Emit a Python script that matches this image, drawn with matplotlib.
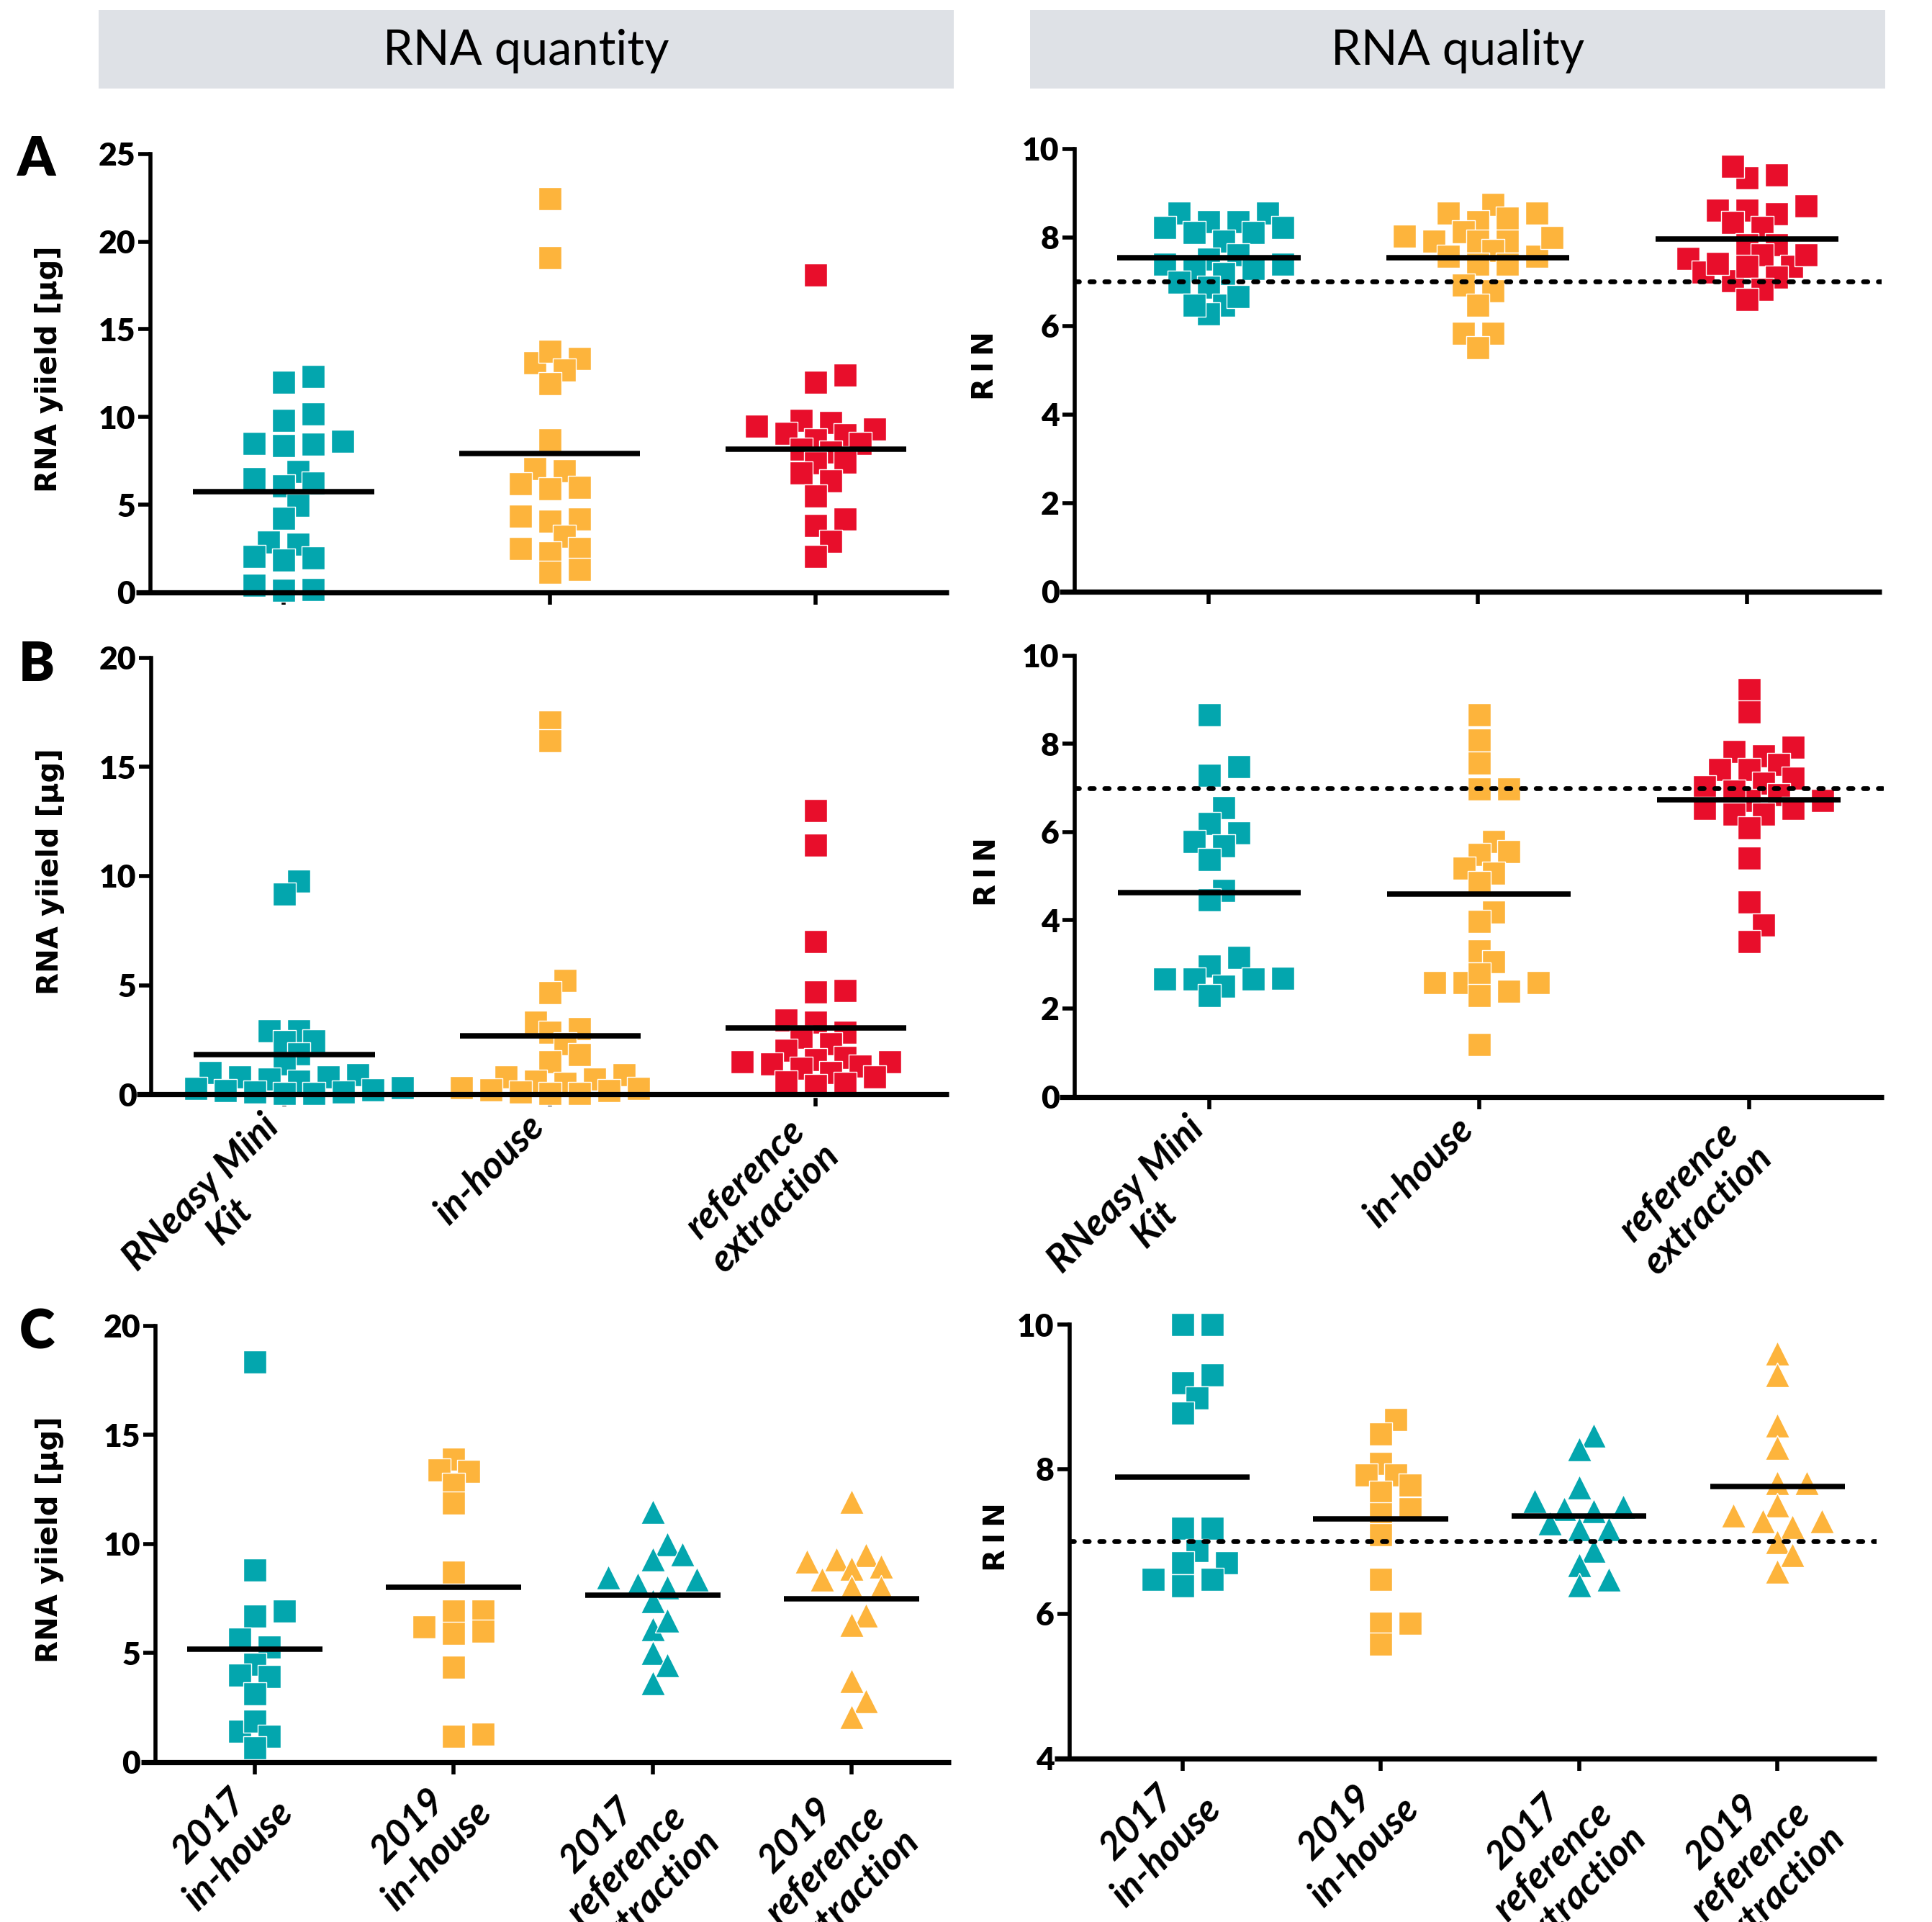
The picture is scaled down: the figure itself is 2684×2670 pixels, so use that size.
import numpy as np
import matplotlib
matplotlib.use("Agg")
import matplotlib.pyplot as plt
from matplotlib.patches import Rectangle
from matplotlib.transforms import ScaledTranslation

# colours used in the figure
TEAL = "#03A6AE"
ORANGE = "#FDB43C"
RED = "#E80E2B"

# category labels
methods = ["RNeasy Mini\nKit", "in-house", "reference\nextraction"]
years_methods = ["2017\nin-house", "2019\nin-house",
                 "2017\nreference\nextraction", "2019\nreference\nextraction"]

# --- panel A: RNA yield [ug] ---
a_yield_kit = [9.82, 10.18, 12.0, 12.3, 8.5, 8.35, 8.45, 8.6, 6.9, 6.25, 6.07,
               6.5, 4.97, 4.24, 2.74, 2.87, 1.96, 1.83, 2.05, 0.4, 0.13, 0.16]
a_yield_house = [22.43, 19.1, 13.07, 13.75, 13.35, 12.7, 11.88, 8.68, 7.04, 6.95, 6.2,
                 5.92, 5.98, 4.33, 4.04, 4.19, 3.2, 2.5, 2.27, 2.5, 1.32, 1.13]
a_yield_ref = [18.1, 12.4, 12.0, 9.81, 9.7, 9.47, 9.33, 9.07, 9.0, 8.7, 8.5,
               8.17, 8.0, 7.44, 7.4, 6.83, 6.36, 5.51, 4.2, 3.8, 2.9, 2.05]
a_yield_means = [5.74, 7.9, 8.16]

# --- panel A: RIN ---
a_rin_kit = [8.55, 8.55, 8.23, 8.36, 8.36, 8.23, 8.11, 8.11, 7.92, 7.60, 7.51,
             7.40, 7.40, 7.27, 7.19, 6.99, 7.30, 6.88, 6.47, 6.27, 6.47, 6.67]
a_rin_house = [8.55, 8.75, 8.43, 8.55, 8.35, 8.13, 7.92, 7.92, 7.92, 8.03, 7.71,
               7.58, 7.39, 7.58, 7.39, 6.92, 6.79, 6.47, 5.84, 5.84, 5.51, 8.0]
a_rin_ref = [9.42, 9.34, 9.61, 8.61, 8.53, 8.72, 8.61, 8.34, 8.23, 7.83, 7.83,
             7.53, 7.21, 7.61, 7.34, 7.02, 7.34, 7.42, 7.61, 7.10, 6.83, 6.60]
a_rin_means = [7.55, 7.55, 7.96]

# --- panel B: RNA yield [ug] ---
b_yield_kit = [9.76, 9.18, 2.9, 2.9, 2.4, 2.45, 1.85, 1.4, 1.0, 0.9, 0.8,
               0.8, 0.7, 0.6, 0.3, 0.25, 0.2, 0.15, 0.1, 0.1, 0.05, 0.05]
b_yield_house = [17.06, 16.2, 5.21, 4.66, 3.3, 3.0, 2.85, 2.3, 1.8, 1.5, 0.9,
                 0.8, 0.7, 0.6, 0.5, 0.3, 0.25, 0.2, 0.15, 0.1, 0.05, 0.05]
b_yield_ref = [12.99, 11.41, 7.01, 4.74, 4.68, 3.4, 3.3, 2.85, 2.6, 2.3, 2.0, 1.7,
               1.6, 1.5, 1.5, 1.4, 1.3, 1.2, 1.0, 0.8, 0.55, 0.5, 0.4]
b_yield_means = [1.8, 2.69, 3.03]

# --- panel B: RIN ---
b_rin_kit = [8.66, 7.48, 7.29, 6.56, 5.98, 6.19, 5.68, 5.79, 5.37, 4.68, 4.46,
             3.16, 2.97, 2.67, 2.67, 2.69, 2.5, 2.67, 2.3]
b_rin_house = [8.66, 8.08, 7.56, 6.97, 6.97, 5.79, 5.56, 5.49, 5.18, 5.07, 4.86,
               4.18, 3.98, 3.3, 3.06, 2.58, 2.78, 2.39, 2.58, 2.58, 2.3, 1.18]
b_rin_ref = [9.23, 8.73, 7.92, 7.83, 7.73, 7.53, 7.41, 7.41, 7.22, 7.11, 7.03, 6.84,
             6.72, 6.92, 6.72, 6.53, 6.41, 6.41, 6.53, 6.1, 5.41, 4.42, 3.9, 3.52]
b_rin_means = [4.63, 4.6, 6.73]

# --- panel C: RNA yield [ug] ---
c_yield_2017_house = [18.35, 8.8, 6.92, 6.68, 5.64, 5.27, 4.48, 3.9, 3.99, 3.11,
                      1.39, 1.88, 1.19, 0.64]
c_yield_2019_house = [13.9, 13.4, 13.32, 12.74, 11.86, 8.71, 6.92, 6.92, 6.18, 5.91,
                      6.0, 4.36, 1.19, 1.28]
c_yield_2017_ref = [11.49, 9.99, 9.53, 9.3, 8.47, 8.38, 8.14, 8.01, 7.37, 6.09,
                    6.5, 5.0, 4.45, 3.62]
c_yield_2019_ref = [11.95, 9.2, 9.3, 9.48, 8.87, 8.98, 8.01, 8.01, 8.38, 6.73,
                    6.28, 3.71, 2.8, 2.07]
c_yield_means = [5.18, 8.01, 7.65, 7.47]

# --- panel C: RIN ---
c_rin_2017_house = [10.0, 10.0, 9.19, 9.3, 8.99, 8.78, 7.18, 7.18, 6.87, 6.7,
                    6.7, 6.48, 6.48, 6.39]
c_rin_2019_house = [8.69, 8.49, 8.08, 7.92, 7.92, 7.68, 7.78, 7.45, 7.38, 7.09,
                    6.48, 5.87, 5.87, 5.58]
c_rin_2017_ref = [8.47, 8.28, 7.75, 7.56, 7.42, 7.48, 7.45, 7.25, 7.17, 7.17,
                  6.87, 6.67, 6.48, 6.4]
c_rin_2019_ref = [9.6, 9.3, 8.61, 8.3, 7.81, 7.81, 7.5, 7.36, 7.28, 7.28,
                  7.2, 6.99, 6.81, 6.59]
c_rin_means = [7.89, 7.31, 7.35, 7.76]

RIN_THRESHOLD = 7

W, H, DPI = 2684, 2670, 200
NUM_FONT = ["Lato", "DejaVu Sans"]
TEXT_FONT = ["Lato", "DejaVu Sans"]

fig = plt.figure(figsize=(W / DPI, H / DPI), dpi=DPI)


def swarm_offsets(values, rect, xlim, ylim, step_px=20.5, same_px=26, near_px=12):
    # greedy Prism-like column scatter, worked out in pixel space
    px_per_x = rect[2] * W / (xlim[1] - xlim[0])
    px_per_y = rect[3] * H / (ylim[1] - ylim[0])
    values = np.asarray(values, dtype=float)
    slots = np.zeros(len(values))
    placed = []
    candidates = [0]
    for k in range(1, 12):
        candidates += [k, -k]
    for i in np.argsort(values):
        y = values[i] * px_per_y
        for k in candidates:
            ok = True
            for s, yy in placed:
                d = abs(s - k)
                if d == 0 and abs(yy - y) < same_px:
                    ok = False
                    break
                if d == 1 and abs(yy - y) < near_px:
                    ok = False
                    break
            if ok:
                break
        placed.append((k, y))
        slots[i] = k
    return slots * step_px / px_per_x


def draw_panel(rect, groups, colors, markers, means, ylim, yticks, ylabel, label_x,
               xlim, xlabels=None, threshold=None, label_shift=(-12.7, -0.3)):
    ax = fig.add_axes(rect)
    ax.set_xlim(*xlim)
    ax.set_ylim(*ylim)
    for side in ["top", "right", "bottom"]:
        ax.spines[side].set_visible(False)
    ax.spines["left"].set_linewidth(2.0)
    # x axis line sticks out a little left of the y axis, like Prism does it
    ax.plot([-0.018, 1.0], [0, 0], transform=ax.transAxes, color="black", lw=2.6,
            clip_on=False, solid_capstyle="butt", zorder=5)

    for i, (vals, col, mk) in enumerate(zip(groups, colors, markers)):
        offs = swarm_offsets(vals, rect, xlim, ylim)
        size = 125 if mk == "s" else 150
        ax.scatter(i + offs, vals, marker=mk, s=size, color=col, edgecolors="white",
                   linewidths=0.5, zorder=2, clip_on=False)
        ax.plot([i - 0.34, i + 0.34], [means[i], means[i]], color="black", lw=2.7,
                solid_capstyle="butt", zorder=4)

    if threshold is not None:
        ax.axhline(threshold, color="black", lw=2.4, linestyle=(0, (0.9, 2.2)),
                   dash_capstyle="round", zorder=3)

    ax.set_yticks(yticks)
    ax.set_yticklabels([str(t) for t in yticks])
    ax.tick_params(axis="y", direction="out", length=6, width=2, pad=1.5, labelsize=16)
    ax.tick_params(axis="x", direction="out", length=6, width=2)
    for lab in ax.get_yticklabels():
        lab.set_fontfamily(NUM_FONT)
        lab.set_fontweight("heavy")

    ax.set_xticks(range(len(groups)))
    ax.set_xticklabels([])
    if xlabels:
        # rotated category names; the first line ends just below its tick
        shift = ScaledTranslation(label_shift[0] / 72, label_shift[1] / 72,
                                  fig.dpi_scale_trans)
        for i, name in enumerate(xlabels):
            ax.text(i, 0, name, transform=ax.get_xaxis_transform() + shift,
                    rotation=45, rotation_mode="anchor", ha="right", va="top",
                    multialignment="center", fontsize=19, fontweight="bold",
                    fontstyle="italic", family=TEXT_FONT, clip_on=False)

    ax.set_ylabel(ylabel, fontsize=14.5, fontweight="bold", family="DejaVu Sans")
    ax.yaxis.set_label_coords(label_x, 0.51)
    return ax


three = [TEAL, ORANGE, RED]
squares3 = ["s", "s", "s"]
four = [TEAL, ORANGE, TEAL, ORANGE]
mk4 = ["s", "s", "^", "^"]
yield_label = "RNA yiield [µg]"
rin_label = "R\u2009I\u2009N"

draw_panel([0.0779, 0.6918, 0.4132, 0.2281],
           [a_yield_kit, a_yield_house, a_yield_ref], three, squares3, a_yield_means,
           (0, 25), [0, 5, 10, 15, 20, 25], yield_label, -0.109, (-0.5, 2.5))
draw_panel([0.5561, 0.6923, 0.4178, 0.2302],
           [a_rin_kit, a_rin_house, a_rin_ref], three, squares3, a_rin_means,
           (0, 10), [0, 2, 4, 6, 8, 10], rin_label, -0.0925, (-0.5, 2.5),
           threshold=RIN_THRESHOLD)
draw_panel([0.0784, 0.4307, 0.4126, 0.2270],
           [b_yield_kit, b_yield_house, b_yield_ref], three, squares3, b_yield_means,
           (0, 20), [0, 5, 10, 15, 20], yield_label, -0.109, (-0.5, 2.5),
           xlabels=methods, label_shift=(-12.0, -7.0))
draw_panel([0.5561, 0.4294, 0.4189, 0.2295],
           [b_rin_kit, b_rin_house, b_rin_ref], three, squares3, b_rin_means,
           (0, 10), [0, 2, 4, 6, 8, 10], rin_label, -0.0895, (-0.5, 2.5),
           xlabels=methods, threshold=RIN_THRESHOLD, label_shift=(-12.0, -7.0))
draw_panel([0.0804, 0.0833, 0.4118, 0.2269],
           [c_yield_2017_house, c_yield_2019_house, c_yield_2017_ref, c_yield_2019_ref],
           four, mk4, c_yield_means, (0, 20), [0, 5, 10, 15, 20], yield_label, -0.115,
           (-0.5, 3.5), xlabels=years_methods, label_shift=(-4.5, -1.5))
draw_panel([0.5535, 0.0852, 0.4178, 0.2256],
           [c_rin_2017_house, c_rin_2019_house, c_rin_2017_ref, c_rin_2019_ref],
           four, mk4, c_rin_means, (4, 10), [4, 6, 8, 10], rin_label, -0.0715,
           (-0.57, 3.5), xlabels=years_methods, threshold=RIN_THRESHOLD,
           label_shift=(-4.5, -1.5))

# grey header boxes
for x0, title in [(0.0510, "RNA quantity"), (0.5332, "RNA quality")]:
    fig.add_artist(Rectangle((x0, 0.9539), 0.4425, 0.0408, transform=fig.transFigure,
                             facecolor="#DEE1E6", edgecolor="none"))
    fig.text(x0 + 0.2212, 0.9735, title, ha="center", va="center", fontsize=24,
             family=TEXT_FONT)

# panel letters
for letter, y in [("A", 0.9169), ("B", 0.6539), ("C", 0.3064)]:
    fig.text(0.019, y, letter, ha="center", va="center", fontsize=27,
             fontweight="heavy", family=TEXT_FONT)

fig.savefig("out.png", dpi=DPI, facecolor="white")
